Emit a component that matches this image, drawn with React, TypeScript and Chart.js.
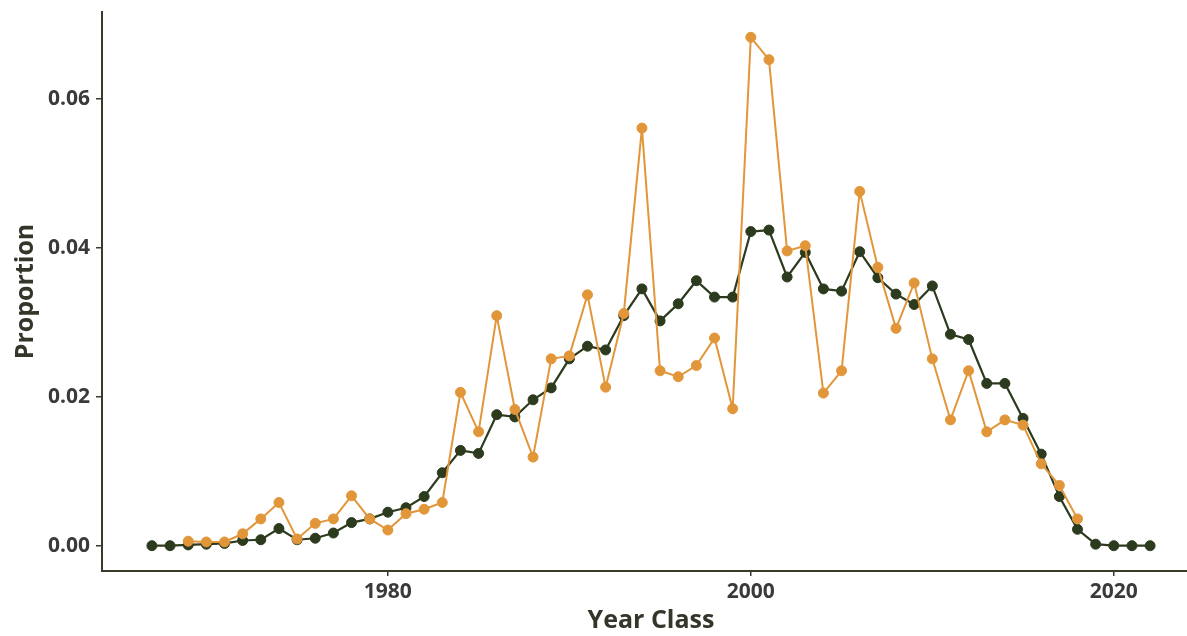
import React, { useEffect, useRef } from "react";
import { Chart, registerables } from "chart.js";

Chart.register(...registerables);

const darkYears = [1967, 1968, 1969, 1970, 1971, 1972, 1973, 1974, 1975, 1976, 1977, 1978, 1979, 1980, 1981, 1982, 1983, 1984, 1985, 1986, 1987, 1988, 1989, 1990, 1991, 1992, 1993, 1994, 1995, 1996, 1997, 1998, 1999, 2000, 2001, 2002, 2003, 2004, 2005, 2006, 2007, 2008, 2009, 2010, 2011, 2012, 2013, 2014, 2015, 2016, 2017, 2018, 2019, 2020, 2021, 2022];
const darkValues = [0, 0, 0.0001, 0.0002, 0.0003, 0.0007, 0.0008, 0.0023, 0.0008, 0.001, 0.0017, 0.0031, 0.0036, 0.0045, 0.0051, 0.0066, 0.0098, 0.0128, 0.0124, 0.0176, 0.0173, 0.0196, 0.0212, 0.0251, 0.0268, 0.0263, 0.0309, 0.0345, 0.0302, 0.0325, 0.0356, 0.0334, 0.0334, 0.0422, 0.0424, 0.0361, 0.0394, 0.0345, 0.0342, 0.0395, 0.036, 0.0338, 0.0324, 0.0349, 0.0284, 0.0277, 0.0218, 0.0218, 0.0171, 0.0123, 0.0066, 0.0022, 0.0002, 0, 0, 0];

const orangeYears = [1969, 1970, 1971, 1972, 1973, 1974, 1975, 1976, 1977, 1978, 1979, 1980, 1981, 1982, 1983, 1984, 1985, 1986, 1987, 1988, 1989, 1990, 1991, 1992, 1993, 1994, 1995, 1996, 1997, 1998, 1999, 2000, 2001, 2002, 2003, 2004, 2005, 2006, 2007, 2008, 2009, 2010, 2011, 2012, 2013, 2014, 2015, 2016, 2017, 2018];
const orangeValues = [0.0006, 0.0005, 0.0005, 0.0016, 0.0036, 0.0058, 0.0009, 0.003, 0.0036, 0.0067, 0.0036, 0.0021, 0.0043, 0.0049, 0.0058, 0.0206, 0.0153, 0.0309, 0.0183, 0.0119, 0.0251, 0.0255, 0.0337, 0.0213, 0.0312, 0.0561, 0.0235, 0.0227, 0.0242, 0.0279, 0.0184, 0.0683, 0.0653, 0.0396, 0.0403, 0.0205, 0.0235, 0.0476, 0.0374, 0.0292, 0.0353, 0.0251, 0.0169, 0.0235, 0.0153, 0.0169, 0.0162, 0.011, 0.0081, 0.0036];

const xTicks = [1980, 2000, 2020];
const yTicks = [0, 0.02, 0.04, 0.06];

const DARK = "#2c3a1d";
const ORANGE = "#e2963a";
const AXIS = "#3b3b2a";
const FONT = "'Open Sans', Lato, sans-serif";

export default function App() {
  const ref = useRef<HTMLCanvasElement | null>(null);

  useEffect(() => {
    if (!ref.current) return;
    const chart = new Chart(ref.current, {
      type: "line",
      data: {
        datasets: [
          {
            label: "Observed",
            data: orangeYears.map((x, i) => ({ x, y: orangeValues[i] })),
            borderColor: ORANGE,
            backgroundColor: ORANGE,
            pointBackgroundColor: ORANGE,
            pointBorderColor: ORANGE,
            borderWidth: 2,
            pointRadius: 5,
            pointBorderWidth: 1,
            tension: 0,
          },
          {
            label: "Model",
            data: darkYears.map((x, i) => ({ x, y: darkValues[i] })),
            borderColor: DARK,
            backgroundColor: DARK,
            pointBackgroundColor: DARK,
            pointBorderColor: DARK,
            borderWidth: 2.2,
            pointRadius: 5,
            pointBorderWidth: 1,
            tension: 0,
          },
        ],
      },
      options: {
        responsive: false,
        animation: false,
        layout: { autoPadding: false, padding: { top: 12, right: 0, left: 0, bottom: 0 } },
        plugins: { legend: { display: false }, tooltip: { enabled: false } },
        scales: {
          x: {
            type: "linear",
            min: 1964.25,
            max: 2024.75,
            afterBuildTicks: (s: any) => {
              s.ticks = xTicks.map((v) => ({ value: v }));
            },
            afterFit: (s: any) => {
              s.height = 65;
              s.paddingLeft = 0;
              s.paddingRight = 0;
            },
            grid: { drawOnChartArea: false, drawTicks: true, tickLength: 5, color: AXIS, lineWidth: 1.5 },
            border: { display: true, color: AXIS, width: 2 },
            ticks: {
              padding: 3,
              color: "#3a3a3a",
              font: { family: FONT, size: 21, weight: "bold" },
              callback: (v: any) => String(v),
              maxRotation: 0,
            },
            title: {
              display: true,
              text: "Year Class",
              color: "#34362a",
              font: { family: FONT, size: 25, weight: "bold" },
              padding: { top: 0, bottom: 0 },
            },
          },
          y: {
            type: "linear",
            min: -0.0034,
            max: 0.0717,
            afterBuildTicks: (s: any) => {
              s.ticks = yTicks.map((v) => ({ value: v }));
            },
            afterFit: (s: any) => {
              s.width = 102;
              s.paddingTop = 0;
              s.paddingBottom = 0;
            },
            grid: { drawOnChartArea: false, drawTicks: true, tickLength: 6, color: AXIS, lineWidth: 1.5 },
            border: { display: true, color: AXIS, width: 2 },
            ticks: {
              padding: 6,
              color: "#3a3a3a",
              font: { family: FONT, size: 21, weight: "bold" },
              callback: (v: any) => Number(v).toFixed(2),
            },
            title: {
              display: true,
              text: "Proportion",
              color: "#34362a",
              font: { family: FONT, size: 25, weight: "bold" },
              padding: { top: 11, bottom: 0 },
            },
          },
        },
      },
    });
    return () => chart.destroy();
  }, []);

  return (
    <div style={{ position: "fixed", left: 0, top: 0, width: 1187, height: 636, overflow: "hidden", background: "#fff" }}>
      <canvas ref={ref} width={1200} height={636} style={{ display: "block" }} />
    </div>
  );
}
